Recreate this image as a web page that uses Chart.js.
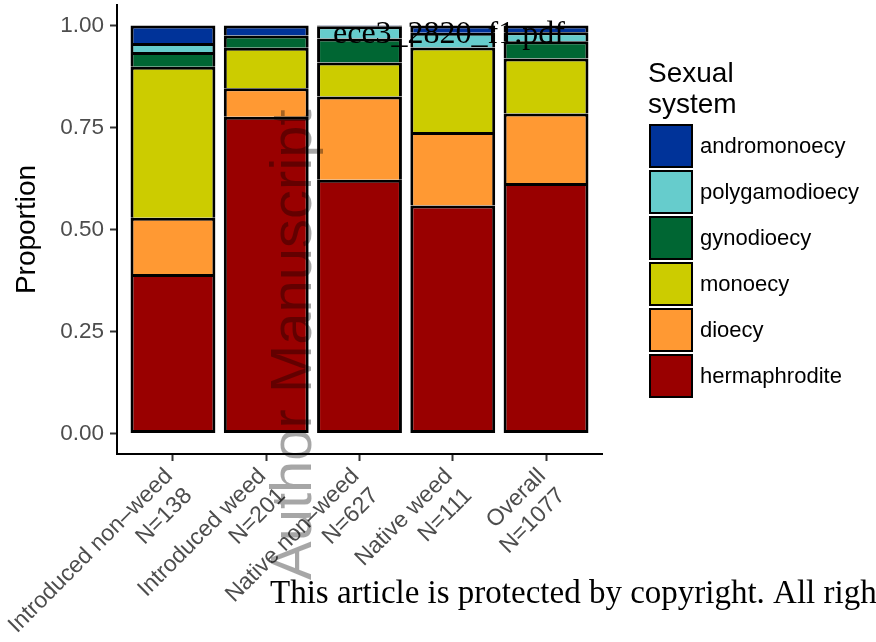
<!DOCTYPE html>
<html>
<head>
<meta charset="utf-8">
<script src="https://cdn.jsdelivr.net/npm/chart.js@4.4.0/dist/chart.umd.min.js"></script>
<style>
  html, body { margin: 0; padding: 0; background: #fff; }
  canvas { display: block; }
</style>
</head>
<body>
<canvas id="chart" width="876" height="642"></canvas>
<script>
const groups = ['Introduced non–weed', 'Introduced weed', 'Native non–weed', 'Native weed', 'Overall'];
const sampleSizes = ['N=138', 'N=201', 'N=627', 'N=111', 'N=1077'];
const yTicks = [0, 0.25, 0.5, 0.75, 1];

// proportions per group, bottom of the stack first
const hermaphrodite = [0.391, 0.776, 0.622, 0.559, 0.614];
const dioecy = [0.138, 0.070, 0.204, 0.180, 0.170];
const monoecy = [0.370, 0.099, 0.083, 0.207, 0.135];
const gynodioecy = [0.036, 0.030, 0.059, 0, 0.042];
const polygamodioecy = [0.022, 0, 0.030, 0.036, 0.022];
const andromonoecy = [0.043, 0.025, 0.002, 0.018, 0.017];

const systems = ['hermaphrodite', 'dioecy', 'monoecy', 'gynodioecy', 'polygamodioecy', 'andromonoecy'];
const seriesValues = [hermaphrodite, dioecy, monoecy, gynodioecy, polygamodioecy, andromonoecy];
const colors = ['#990000', '#FF9933', '#CCCC00', '#006633', '#66CCCC', '#003399'];

Chart.defaults.font.family = "'Liberation Sans', Arial, sans-serif";
Chart.defaults.animation = false;

const ctx = document.getElementById('chart').getContext('2d');

const overlay = {
  id: 'overlay',
  afterDraw(chart) {
    const c = chart.ctx;
    c.save();

    // legend
    c.fillStyle = '#000';
    c.textAlign = 'left';
    c.textBaseline = 'alphabetic';
    c.font = "28px 'Liberation Sans'";
    c.fillText('Sexual', 648, 82);
    c.fillText('system', 648, 113);

    const items = chart.data.datasets.slice().reverse();
    items.forEach((ds, i) => {
      const y = 125 + i * 46;
      c.fillStyle = ds.backgroundColor;
      c.fillRect(650, y, 42, 42);
      c.lineWidth = 2;
      c.strokeStyle = '#000';
      c.strokeRect(650, y, 42, 42);
      c.fillStyle = '#000';
      c.font = "22px 'Liberation Sans'";
      c.textBaseline = 'middle';
      c.fillText(ds.label, 700, y + 22);
    });

    // watermark texts
    c.textBaseline = 'alphabetic';
    c.font = "32px 'Liberation Serif'";
    c.fillStyle = '#000';
    c.fillText('ece3_2820_f1.pdf', 333, 43);
    c.font = "33px 'Liberation Serif'";
    c.fillText('This article is protected by copyright. All rights reserved', 270, 603);

    c.translate(311, 580);
    c.rotate(-Math.PI / 2);
    c.font = "58px 'Liberation Sans'";
    c.fillStyle = 'rgba(0,0,0,0.35)';
    c.fillText('Author Manuscript', 0, 0);
    c.restore();
  }
};

const chart = new Chart(ctx, {
  type: 'bar',
  data: {
    datasets: systems.map((name, k) => ({
      label: name,
      data: seriesValues[k].map((v, i) => ({ x: i, y: v })),
      backgroundColor: colors[k],
      borderColor: '#000',
      borderWidth: 3,
      borderSkipped: k === 0 ? false : 'start',
      barPercentage: 0.91,
      categoryPercentage: 1
    }))
  },
  options: {
    responsive: false,
    devicePixelRatio: 1,
    layout: { padding: { top: 5, right: 274, left: 0, bottom: 0 } },
    plugins: {
      legend: { display: false },
      tooltip: { enabled: false }
    },
    scales: {
      x: {
        type: 'linear',
        stacked: true,
        offset: false,
        min: -0.6,
        max: 4.6,
        afterBuildTicks: (scale) => {
          scale.ticks = groups.map((g, i) => ({ value: i }));
        },
        afterFit: (scale) => {
          scale.height = 188;
          scale.paddingLeft = 0;
          scale.paddingRight = 0;
        },
        ticks: {
          minRotation: 45,
          maxRotation: 45,
          padding: 2,
          labelOffset: -4,
          color: '#4d4d4d',
          font: { size: 23 },
          callback: (v) => {
            const i = Math.round(v);
            return [groups[i], sampleSizes[i]];
          }
        },
        grid: {
          offset: false,
          drawOnChartArea: false,
          drawTicks: true,
          tickLength: 7,
          tickColor: '#333',
          tickWidth: 2
        },
        border: { display: true, color: '#000', width: 2 }
      },
      y: {
        stacked: true,
        min: -0.05,
        max: 1.05,
        afterBuildTicks: (scale) => {
          scale.ticks = yTicks.map((v) => ({ value: v }));
        },
        afterFit: (scale) => {
          scale.width = 117;
          scale.paddingTop = 0;
          scale.paddingBottom = 0;
        },
        ticks: {
          padding: 6,
          color: '#4d4d4d',
          font: { size: 22.5 },
          callback: (v) => v.toFixed(2)
        },
        grid: {
          drawOnChartArea: false,
          drawTicks: true,
          tickLength: 7,
          tickColor: '#333',
          tickWidth: 2
        },
        border: { display: true, color: '#000', width: 2 },
        title: {
          display: true,
          text: 'Proportion',
          color: '#000',
          font: { size: 28 },
          padding: { top: 10, bottom: 0 }
        }
      }
    }
  },
  plugins: [overlay]
});
</script>
</body>
</html>
